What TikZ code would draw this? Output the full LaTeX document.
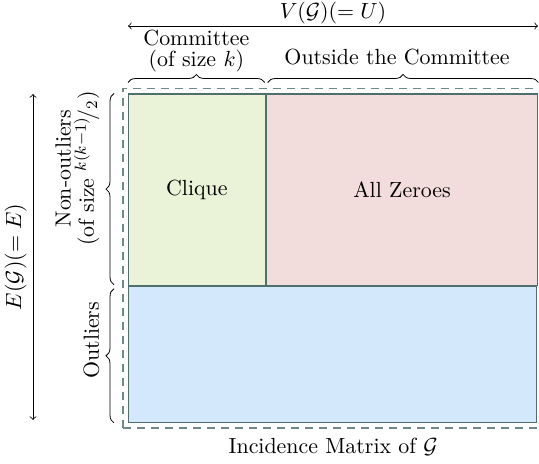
\documentclass[tikz,border=0pt,11pt]{standalone}
\usepackage{amsmath}
\usepackage{amssymb}
\usetikzlibrary{positioning, decorations.pathreplacing, fit}

\definecolor{cliquegreen}{HTML}{EAF3D8}
\definecolor{zeropink}{HTML}{F3DCDC}
\definecolor{outlierblue}{HTML}{D4E8FC}
\definecolor{cellborder}{HTML}{4F6F6D}
\definecolor{dashgray}{HTML}{6E8A88}

\begin{document}
\begin{tikzpicture}[x=0.5pt, y=-0.5pt, semithick]
\tikzstyle{cell}=[draw=cellborder, rectangle, anchor=north west, inner sep=0pt]
\tikzstyle{brace}=[decorate, decoration={brace, amplitude=4pt}, thin]
\useasboundingbox (0,0) rectangle (539,464);

\node[cell, fill=cliquegreen, minimum width=68.25pt, minimum height=95.5pt]  (clique) at (128,93.5) {Clique};
\node[cell, fill=zeropink, minimum width=135.75pt, minimum height=95.5pt]    (zeroes) at (clique.north east) {All Zeroes};
\node[cell, fill=outlierblue, minimum width=204pt, minimum height=68pt]      (outl)   at (clique.south west) {};
\node[draw=dashgray, dash pattern=on 4pt off 3pt, fit=(clique)(zeroes)(outl), inner sep=2.5pt] (mbox) {};
\node[below=1pt of mbox] (caption) {Incidence Matrix of $\mathcal{G}$};

% braces over the columns
\draw[brace] ([yshift=5.5pt]clique.north west) -- ([xshift=-0.5pt, yshift=5.5pt]clique.north east)
  node[midway, above=4pt, align=center, inner sep=1pt] (committee) {Committee\\[-3pt](of size $k$)};
\draw[brace] ([xshift=1pt, yshift=5.5pt]zeroes.north west) -- ([yshift=5.5pt]zeroes.north east)
  node[midway, above=5pt, xshift=-3pt] (outside) {Outside the Committee};

% braces beside the rows
\draw[brace] ([xshift=-7pt, yshift=0.5pt]clique.south west) -- ([xshift=-7pt]clique.north west);
\node[rotate=90, anchor=south, align=center, inner sep=0pt] (nonout) at ([xshift=-14pt, yshift=10.5pt]clique.west)
  {Non-outliers\\[-2pt](of size ${}^{k(k-1)}\!/_{2}$)};
\draw[brace] ([xshift=-7pt]outl.south west) -- ([xshift=-7pt, yshift=-1.5pt]outl.north west);
\node[rotate=90, anchor=south, inner sep=0pt] (outlabel) at ([xshift=-14pt, yshift=7pt]outl.west) {Outliers};

% the two ranges
\coordinate (vleft)  at (128,26);
\coordinate (vright) at (538,26);
\draw[<->, thin] (vleft) -- (vright) node[midway, above=0.6pt, inner sep=0pt] (vlabel) {$V(\mathcal{G})(=U)$};
\coordinate (ebottom) at (33,420);
\coordinate (etop)    at (33,94);
\draw[<->, thin] (ebottom) -- (etop) node[midway, sloped, above=2pt, inner sep=1pt] (elabel) {$E(\mathcal{G})(=E)$};
\end{tikzpicture}
\end{document}
